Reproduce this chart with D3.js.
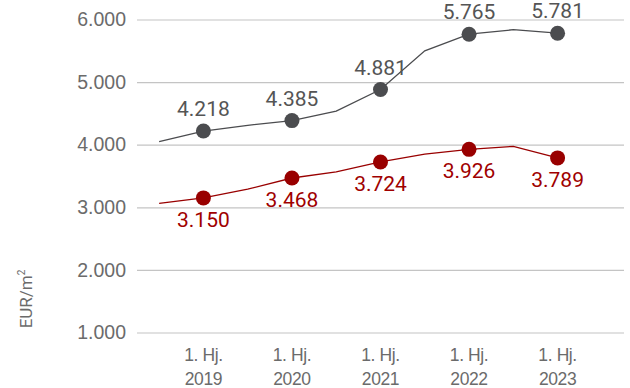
<!DOCTYPE html>
<html>
<head>
<meta charset="utf-8">
<script src="https://cdn.jsdelivr.net/npm/d3@7"></script>
<style>
    body { margin: 0; background: #ffffff; }
    svg { display: block; font-family: Roboto, "Noto Sans", sans-serif; }
</style>
</head>
<body>
<script>
// 数据：半年度，共 11 个槽位（最后一个为空）
const periods = ['2H2018', '1H2019', '2H2019', '1H2020', '2H2020', '1H2021',
    '2H2021', '1H2022', '2H2022', '1H2023', '2H2023'];
const labeledPeriods = ['1H2019', '1H2020', '1H2021', '1H2022', '1H2023'];
const tickLabels = {
    '1H2019': ['1. Hj.', '2019'],
    '1H2020': ['1. Hj.', '2020'],
    '1H2021': ['1. Hj.', '2021'],
    '1H2022': ['1. Hj.', '2022'],
    '1H2023': ['1. Hj.', '2023']
};
const greyValues = [4050, 4218, 4310, 4385, 4538, 4881, 5500, 5765, 5837, 5781];
const redValues = [3062, 3150, 3290, 3468, 3565, 3724, 3851, 3926, 3974, 3789];
const yTicks = [1000, 2000, 3000, 4000, 5000, 6000];

const width = 630, height = 388;
const margin = {left: 137, right: 6, top: 19.5, bottom: 55.5};

const svg = d3.select('body')
    .append('svg')
    .attr('width', width)
    .attr('height', height);

const x = d3.scaleBand()
    .domain(periods)
    .range([margin.left, width - margin.right]);
const y = d3.scaleLinear()
    .domain([1000, 6000])
    .range([height - margin.bottom, margin.top]);

const fmt = v => d3.format(',')(v).replace(/,/g, '.');
const cx = p => x(p) + x.bandwidth() / 2;

// 网格线 + y 轴刻度
const yAxis = svg.append('g')
    .attr('transform', `translate(${margin.left},0)`)
    .call(d3.axisLeft(y)
        .tickValues(yTicks)
        .tickSize(-(width - margin.left - margin.right))
        .tickPadding(11)
        .tickFormat(fmt));
yAxis.select('.domain').remove();
yAxis.selectAll('line').attr('stroke', '#c4c4c4').attr('stroke-width', 1.2);
yAxis.selectAll('text')
    .attr('fill', '#6b6b6b')
    .style('font-size', '19.5px');

// x 轴标签（两行）
const xAxis = svg.append('g')
    .attr('transform', `translate(0,${height - margin.bottom})`)
    .call(d3.axisBottom(x).tickValues(labeledPeriods).tickSize(0).tickFormat(''));
xAxis.select('.domain').remove();
xAxis.selectAll('.tick').each(function (d) {
    const t = d3.select(this).append('text')
        .attr('fill', '#6b6b6b')
        .attr('text-anchor', 'middle')
        .style('font-size', '17.5px')
        .style('letter-spacing', '-0.4px');
    t.append('tspan').attr('x', 0).attr('y', 28.5).text(tickLabels[d][0]);
    t.append('tspan').attr('x', 0).attr('y', 52.5).text(tickLabels[d][1]);
});

// y 轴标题
svg.append('text')
    .attr('transform', 'translate(32,299) rotate(-90)')
    .attr('text-anchor', 'middle')
    .attr('fill', '#6b6b6b')
    .style('font-size', '17px')
    .html('EUR/m<tspan dy="-7" font-size="10px">2</tspan>');

const series = [
    {values: greyValues, color: '#4b4c4f', labelDy: -15},
    {values: redValues, color: '#990000', labelDy: 29}
];

const line = d3.line()
    .x((d, i) => cx(periods[i]))
    .y(d => y(d));

series.forEach(s => {
    const g = svg.append('g');
    g.append('path')
        .datum(s.values)
        .attr('fill', 'none')
        .attr('stroke', s.color)
        .attr('stroke-width', 1.3)
        .attr('d', line);

    const pts = s.values
        .map((v, i) => ({p: periods[i], v}))
        .filter(d => labeledPeriods.includes(d.p));

    g.selectAll('circle')
        .data(pts)
        .enter()
        .append('circle')
        .attr('cx', d => cx(d.p))
        .attr('cy', d => y(d.v))
        .attr('r', 7.5)
        .attr('fill', s.color);

    g.selectAll('text')
        .data(pts)
        .enter()
        .append('text')
        .attr('x', d => cx(d.p))
        .attr('y', d => y(d.v) + s.labelDy)
        .attr('text-anchor', 'middle')
        .attr('fill', s.color === '#990000' ? '#a00000' : '#555555')
        .style('font-size', '21px')
        .text(d => fmt(d.v));
});
</script>
</body>
</html>
